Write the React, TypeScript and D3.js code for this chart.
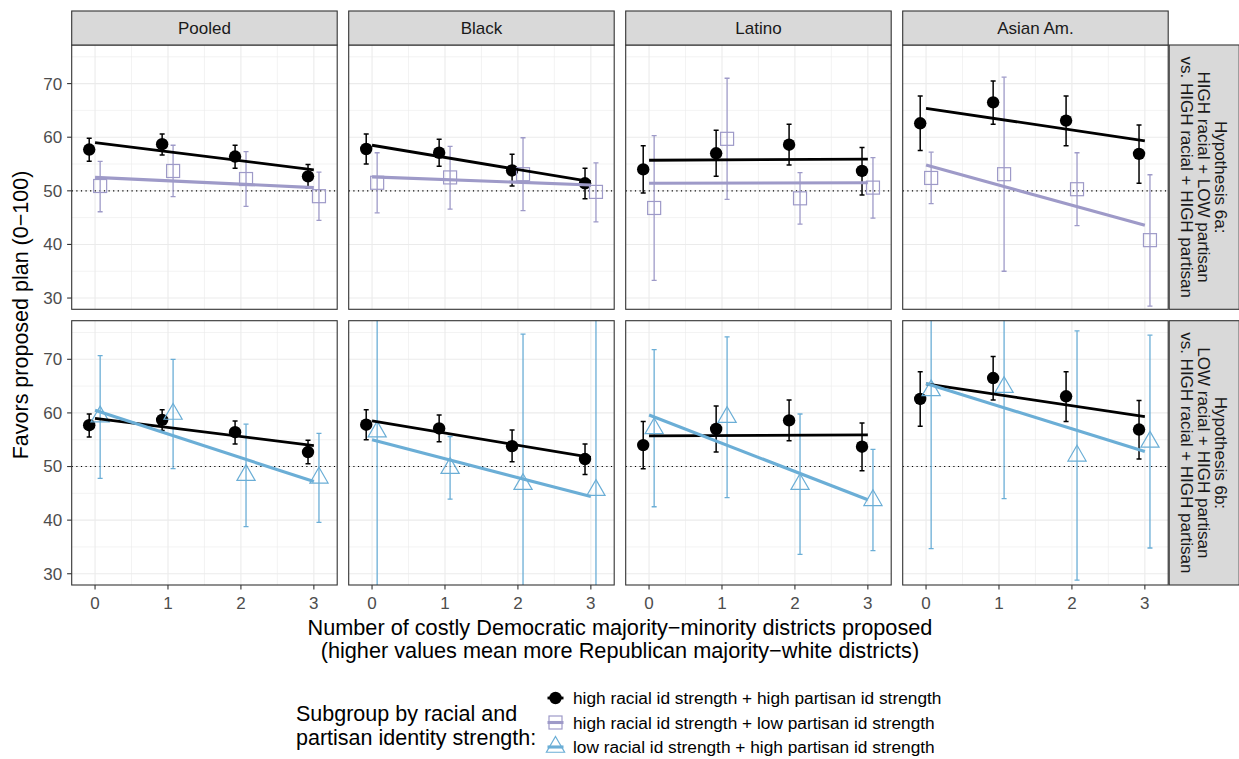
import React from "react";
import * as d3 from "d3";

// Facet labels
const groups = ["Pooled", "Black", "Latino", "Asian Am."];
const hypothesisLabels = [
  ["Hypothesis 6a:", "HIGH racial + LOW partisan", "vs. HIGH racial + HIGH partisan"],
  ["Hypothesis 6b:", "LOW racial + HIGH partisan", "vs. HIGH racial + HIGH partisan"],
];

// Axis ticks
const districts = [0, 1, 2, 3];
const yTicks = [30, 40, 50, 60, 70];
const yMinorTicks = [35, 45, 55, 65, 75];
const xMinorTicks = [0.5, 1.5, 2.5];

// Subgroup names (legend)
const seriesNames = [
  "high racial id strength + high partisan id strength",
  "high racial id strength + low partisan id strength",
  "low racial id strength + high partisan id strength",
];

// high racial + high partisan: estimates, 95% CI, fitted line ends (x = 0, x = 3), per group
const hhEst = [
  [57.7, 58.7, 56.4, 52.7],
  [57.8, 57.1, 53.8, 51.4],
  [54.0, 57.0, 58.6, 53.7],
  [62.6, 66.5, 63.1, 56.9],
];
const hhLow = [
  [55.5, 56.7, 54.2, 50.5],
  [55.0, 54.6, 50.9, 48.5],
  [49.6, 52.7, 54.8, 49.2],
  [57.5, 62.4, 58.4, 51.4],
];
const hhHigh = [
  [59.8, 60.6, 58.5, 54.9],
  [60.6, 59.6, 56.8, 54.2],
  [58.4, 61.3, 62.4, 58.1],
  [67.7, 70.5, 67.7, 62.3],
];
const hhFit = [
  [59.0, 53.9],
  [58.5, 51.7],
  [55.7, 55.9],
  [65.4, 59.3],
];

// high racial + low partisan
const hlEst = [
  [50.9, 53.7, 52.2, 49.0],
  [51.5, 52.5, 53.1, 49.8],
  [46.8, 59.7, 48.6, 50.6],
  [52.4, 53.1, 50.3, 40.8],
];
const hlLow = [
  [46.1, 48.9, 47.1, 44.5],
  [45.9, 46.6, 46.3, 44.2],
  [33.3, 48.4, 43.8, 44.9],
  [47.6, 35.0, 43.5, 28.5],
];
const hlHigh = [
  [55.5, 58.5, 57.3, 53.5],
  [57.1, 58.3, 59.9, 55.2],
  [60.3, 71.0, 53.4, 56.2],
  [57.2, 71.2, 57.1, 53.0],
];
const hlFit = [
  [52.5, 50.6],
  [52.6, 51.1],
  [51.4, 51.5],
  [54.8, 43.6],
];

// low racial + high partisan
const lhEst = [
  [59.3, 59.8, 48.4, 47.9],
  [56.5, 49.7, 46.7, 45.6],
  [57.1, 59.2, 46.7, 43.7],
  [64.2, 64.8, 52.0, 54.6],
];
const lhLow = [
  [47.8, 49.6, 38.8, 39.6],
  [14.0, 43.9, 18.7, 10.0],
  [42.5, 44.2, 33.6, 34.3],
  [34.7, 44.0, 28.8, 34.8],
];
const lhHigh = [
  [70.7, 70.0, 57.9, 56.2],
  [99.0, 55.6, 74.7, 81.0],
  [71.8, 74.2, 59.8, 53.2],
  [93.7, 85.6, 75.3, 74.5],
];
const lhFit = [
  [60.5, 47.2],
  [55.0, 44.4],
  [59.6, 43.8],
  [65.5, 52.8],
];

const FONT = "'Liberation Sans', Arial, Helvetica, sans-serif";
const COLORS = ["#000000", "#9e9ac8", "#6baed6"];
const SHAPES = ["circle", "square", "triangle"];
const DODGE = [-0.08, 0.07, 0.07];

type Series = {
  idx: number;
  est: number[][];
  low: number[][];
  high: number[][];
  fit: number[][];
};

const seriesList: Series[] = [
  { idx: 0, est: hhEst, low: hhLow, high: hhHigh, fit: hhFit },
  { idx: 1, est: hlEst, low: hlLow, high: hlHigh, fit: hlFit },
  { idx: 2, est: lhEst, low: lhLow, high: lhHigh, fit: lhFit },
];
// Each facet row compares the reference subgroup with one other subgroup
const rowSeries = [
  [seriesList[0], seriesList[1]],
  [seriesList[0], seriesList[2]],
];

// Layout
const W = 1239;
const H = 759;
const panelLeft0 = 71.7;
const panelW = 265.5;
const colGap = 11.5;
const rowTop0 = 45;
const panelH = 264.3;
const rowGap = 11.4;
const stripH = 34;
const rightStripW = 70;

const x = d3.scaleLinear().domain([-0.32, 3.32]).range([0, panelW]);
const y = d3.scaleLinear().domain([27.9, 77.2]).range([panelH, 0]);

function Marker({ shape, cx, cy, color }: { shape: string; cx: number; cy: number; color: string }) {
  if (shape === "circle") return <circle cx={cx} cy={cy} r={6.2} fill={color} />;
  if (shape === "square")
    return <rect x={cx - 6.5} y={cy - 6.5} width={13} height={13} fill="none" stroke={color} strokeWidth={1.2} />;
  const r = 10.5;
  const hw = r * 0.866;
  const p = `M${cx},${cy - r}L${cx + hw},${cy + r / 2}L${cx - hw},${cy + r / 2}Z`;
  return <path d={p} fill="none" stroke={color} strokeWidth={1.2} />;
}

function Panel({ row, col }: { row: number; col: number }) {
  const left = panelLeft0 + col * (panelW + colGap);
  const top = rowTop0 + row * (panelH + rowGap);
  const clipId = `clip-${row}-${col}`;
  const line = d3
    .line<number[]>()
    .x((d) => x(d[0]))
    .y((d) => y(d[1]));
  return (
    <g transform={`translate(${left},${top})`}>
      <defs>
        <clipPath id={clipId}>
          <rect x={0} y={0} width={panelW} height={panelH} />
        </clipPath>
      </defs>
      <rect x={0} y={0} width={panelW} height={panelH} fill="#ffffff" />
      {/* minor grid */}
      {yMinorTicks.map((t) => (
        <line key={`ym${t}`} x1={0} x2={panelW} y1={y(t)} y2={y(t)} stroke="#ebebeb" strokeWidth={0.6} />
      ))}
      {xMinorTicks.map((t) => (
        <line key={`xm${t}`} x1={x(t)} x2={x(t)} y1={0} y2={panelH} stroke="#ebebeb" strokeWidth={0.6} />
      ))}
      {/* major grid */}
      {yTicks.map((t) => (
        <line key={`yM${t}`} x1={0} x2={panelW} y1={y(t)} y2={y(t)} stroke="#ebebeb" strokeWidth={1.1} />
      ))}
      {districts.map((t) => (
        <line key={`xM${t}`} x1={x(t)} x2={x(t)} y1={0} y2={panelH} stroke="#ebebeb" strokeWidth={1.1} />
      ))}
      <g clipPath={`url(#${clipId})`}>
        {/* reference line at 50 */}
        <line x1={0} x2={panelW} y1={y(50)} y2={y(50)} stroke="#000" strokeWidth={1.2} strokeDasharray="1.2,3.4" />
        {rowSeries[row].map((s) => {
          const color = COLORS[s.idx];
          const bw = s.idx === 0 ? 1.5 : 1.3;
          return (
            <g key={`eb${s.idx}`}>
              {districts.map((d, i) => {
                const cx = x(d + DODGE[s.idx]);
                const lo = y(s.low[col][i]);
                const hi = y(s.high[col][i]);
                return (
                  <g key={i} stroke={color} strokeWidth={bw}>
                    <line x1={cx} x2={cx} y1={lo} y2={hi} />
                    <line x1={cx - 2.5} x2={cx + 2.5} y1={lo} y2={lo} />
                    <line x1={cx - 2.5} x2={cx + 2.5} y1={hi} y2={hi} />
                  </g>
                );
              })}
            </g>
          );
        })}
        {rowSeries[row].map((s) => (
          <g key={`pt${s.idx}`}>
            {districts.map((d, i) => (
              <Marker
                key={i}
                shape={SHAPES[s.idx]}
                cx={x(d + DODGE[s.idx])}
                cy={y(s.est[col][i])}
                color={COLORS[s.idx]}
              />
            ))}
          </g>
        ))}
        {rowSeries[row].map((s) => (
          <path
            key={`fit${s.idx}`}
            d={line([
              [districts[0], s.fit[col][0]],
              [districts[districts.length - 1], s.fit[col][1]],
            ]) as string}
            fill="none"
            stroke={COLORS[s.idx]}
            strokeWidth={s.idx === 0 ? 2.8 : 3.1}
          />
        ))}
      </g>
      <rect x={0} y={0} width={panelW} height={panelH} fill="none" stroke="#333333" strokeWidth={1.1} />
      {/* y axis on the first column */}
      {col === 0 &&
        yTicks.map((t) => (
          <g key={`yt${t}`}>
            <line x1={-4.6} x2={0} y1={y(t)} y2={y(t)} stroke="#333333" strokeWidth={1.1} />
            <text x={-9.5} y={y(t)} dy="0.35em" textAnchor="end" fontSize={17} fill="#4d4d4d" fontFamily={FONT}>
              {t}
            </text>
          </g>
        ))}
      {/* x axis on the bottom row */}
      {row === 1 &&
        districts.map((t) => (
          <g key={`xt${t}`}>
            <line x1={x(t)} x2={x(t)} y1={panelH} y2={panelH + 4.6} stroke="#333333" strokeWidth={1.1} />
            <text x={x(t)} y={panelH + 24} textAnchor="middle" fontSize={17} fill="#4d4d4d" fontFamily={FONT}>
              {t}
            </text>
          </g>
        ))}
      {/* column strip */}
      {row === 0 && (
        <g>
          <rect x={0} y={-stripH} width={panelW} height={stripH} fill="#d9d9d9" stroke="#333333" strokeWidth={1.1} />
          <text x={panelW / 2} y={-stripH / 2} dy="0.35em" textAnchor="middle" fontSize={17} fill="#1a1a1a" fontFamily={FONT}>
            {groups[col]}
          </text>
        </g>
      )}
      {/* row strip */}
      {col === groups.length - 1 && (
        <g>
          <rect x={panelW + 1} y={0} width={rightStripW} height={panelH} fill="#d9d9d9" stroke="#333333" strokeWidth={1.1} />
          {hypothesisLabels[row].map((lbl, k) => (
            <text
              key={k}
              transform={`translate(${panelW + 1 + rightStripW / 2 + 17 * (1 - k)},${panelH / 2}) rotate(90)`}
              dy="0.35em"
              textAnchor="middle"
              fontSize={17}
              fill="#1a1a1a"
              fontFamily={FONT}
            >
              {lbl}
            </text>
          ))}
        </g>
      )}
    </g>
  );
}

function LegendKey({ idx, cx, cy }: { idx: number; cx: number; cy: number }) {
  const color = COLORS[idx];
  return (
    <g>
      <line x1={cx - 8} x2={cx + 8} y1={cy} y2={cy} stroke={color} strokeWidth={idx === 0 ? 2.8 : 3.1} />
      <Marker shape={SHAPES[idx]} cx={cx} cy={cy} color={color} />
    </g>
  );
}

export default function App() {
  const panelsRight = panelLeft0 + 4 * panelW + 3 * colGap;
  const xTitleCenter = (panelLeft0 + panelsRight) / 2;
  const yTitleCenter = rowTop0 + panelH + rowGap / 2;
  const legendY = [698, 722.5, 747];
  return (
    <svg
      width={W}
      height={H}
      style={{ position: "absolute", left: 0, top: 0, background: "#ffffff" }}
      fontFamily={FONT}
    >
      <rect x={0} y={0} width={W} height={H} fill="#ffffff" />
      {[0, 1].map((row) => groups.map((_, col) => <Panel key={`${row}-${col}`} row={row} col={col} />))}
      {/* axis titles */}
      <text
        transform={`translate(28,${yTitleCenter}) rotate(-90)`}
        textAnchor="middle"
        fontSize={21.5}
        fill="#000"
      >
        Favors proposed plan (0−100)
      </text>
      <text x={xTitleCenter} y={635} textAnchor="middle" fontSize={21.7} fill="#000">
        Number of costly Democratic majority−minority districts proposed
      </text>
      <text x={xTitleCenter} y={658} textAnchor="middle" fontSize={21.7} fill="#000">
        (higher values mean more Republican majority−white districts)
      </text>
      {/* legend */}
      <text x={296} y={721} fontSize={21.5} fill="#000">
        Subgroup by racial and
      </text>
      <text x={296} y={745} fontSize={21.5} fill="#000">
        partisan identity strength:
      </text>
      {seriesNames.map((name, i) => (
        <g key={name}>
          <LegendKey idx={i} cx={555.5} cy={legendY[i]} />
          <text x={573} y={legendY[i]} dy="0.35em" fontSize={17.3} fill="#000">
            {name}
          </text>
        </g>
      ))}
    </svg>
  );
}
